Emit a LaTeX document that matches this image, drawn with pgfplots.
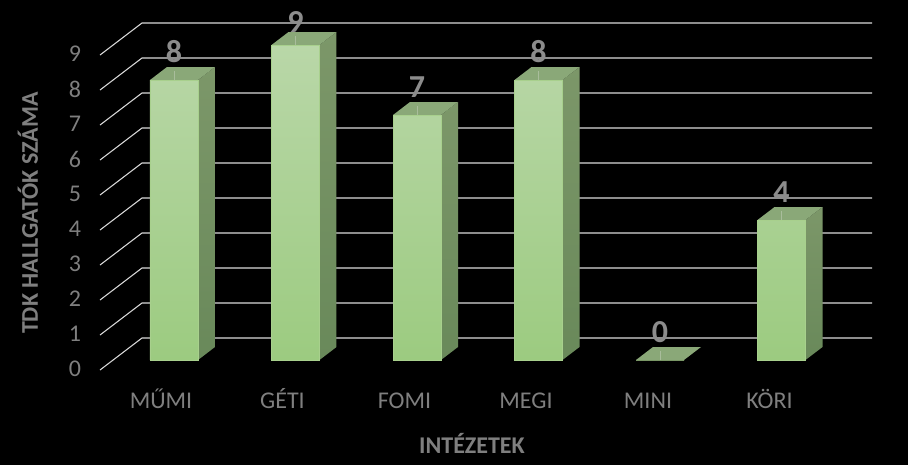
\documentclass[border=0pt]{standalone}
\usepackage{pgfplots}
\usepackage{pgfplotstable}
\usepackage{fontspec}
\setmainfont{Carlito}
\pgfplotsset{compat=1.18}

\definecolor{txt}{HTML}{7F7F7F}
\definecolor{lbl}{HTML}{8C8C8C}
\definecolor{gridc}{HTML}{D9D9D9}
\definecolor{frontT}{HTML}{B9D7A8}
\definecolor{frontB}{HTML}{9CCB80}
\definecolor{edgec}{HTML}{A8D08D}
\definecolor{sideT}{HTML}{7C9769}
\definecolor{sideB}{HTML}{69895A}
\definecolor{topf}{HTML}{8AA878}
\definecolor{leader}{HTML}{A9BD9C}

% bar centre (pixels) and value
\pgfplotstableread{
x v
174 8
295.5 9
417 7
538.5 8
660 0
781.5 4
}\bars

\begin{document}
\begin{tikzpicture}
\fill[black] (0,0) rectangle (681pt,348.75pt);
\useasboundingbox (0,0) rectangle (681pt,348.75pt);
\begin{axis}[
at={(75pt,78.75pt)}, anchor=origin,
x=0.75pt, y=26.25pt,
xmin=100, xmax=872,
ymin=0, ymax=9.7,
clip=false,
axis line style={draw=none},
major tick length=0pt,
tick style={draw=none},
xtick={161,282.5,404.5,526,648,769.5},
xticklabels={MŰMI,GÉTI,FOMI,MEGI,MINI,KÖRI},
ytick={0,1,...,9},
/pgf/number format/assume math mode=true,
tick label style={font=\fontsize{18}{20}\selectfont, text=txt},
xticklabel style={anchor=base, yshift=-36pt},
yticklabel style={anchor=center, xshift=-18.75pt, yshift=-6.75pt},
]
% back wall and left wall lines
\addplot[gridc, line width=0.8pt, unbounded coords=jump] coordinates {
(100,-0.286)(142,0.629)(872,0.629)(872,nan)
(100,0.714)(142,1.629)(872,1.629)(872,nan)
(100,1.714)(142,2.629)(872,2.629)(872,nan)
(100,2.714)(142,3.629)(872,3.629)(872,nan)
(100,3.714)(142,4.629)(872,4.629)(872,nan)
(100,4.714)(142,5.629)(872,5.629)(872,nan)
(100,5.714)(142,6.629)(872,6.629)(872,nan)
(100,6.714)(142,7.629)(872,7.629)(872,nan)
(100,7.714)(142,8.629)(872,8.629)(872,nan)
(100,8.714)(142,9.629)(872,9.629)(872,nan)
};
% side faces
\addplot[draw=none, top color=sideT, bottom color=sideB] coordinates {(198,0)(215,0.371)(215,8.371)(198,8)} --cycle;
\addplot[draw=none, top color=sideT, bottom color=sideB] coordinates {(319.5,0)(336.5,0.371)(336.5,9.371)(319.5,9)} --cycle;
\addplot[draw=none, top color=sideT, bottom color=sideB] coordinates {(441,0)(458,0.371)(458,7.371)(441,7)} --cycle;
\addplot[draw=none, top color=sideT, bottom color=sideB] coordinates {(562.5,0)(579.5,0.371)(579.5,8.371)(562.5,8)} --cycle;
\addplot[draw=none, top color=sideT, bottom color=sideB] coordinates {(805.5,0)(822.5,0.371)(822.5,4.371)(805.5,4)} --cycle;
% top faces
\addplot[draw=none, fill=topf] coordinates {(150,8)(198,8)(215,8.371)(167,8.371)} --cycle;
\addplot[draw=none, fill=topf] coordinates {(271.5,9)(319.5,9)(336.5,9.371)(288.5,9.371)} --cycle;
\addplot[draw=none, fill=topf] coordinates {(393,7)(441,7)(458,7.371)(410,7.371)} --cycle;
\addplot[draw=none, fill=topf] coordinates {(514.5,8)(562.5,8)(579.5,8.371)(531.5,8.371)} --cycle;
\addplot[draw=none, fill=topf] coordinates {(636,0)(684,0)(701,0.371)(653,0.371)} --cycle;
\addplot[draw=none, fill=topf] coordinates {(757.5,4)(805.5,4)(822.5,4.371)(774.5,4.371)} --cycle;
% leader stubs on the top faces
\addplot[leader, line width=0.6pt, unbounded coords=jump] coordinates {
(174,8)(174,8.25)(174,nan)
(295.5,9)(295.5,9.25)(295.5,nan)
(417,7)(417,7.25)(417,nan)
(538.5,8)(538.5,8.25)(538.5,nan)
(660,0)(660,0.25)(660,nan)
(781.5,4)(781.5,4.25)(781.5,nan)
};
% front faces
\addplot[ybar, bar width=36pt, bar shift=0pt, draw=edgec, line width=0.5pt, top color=frontT, bottom color=frontB] table[x=x,y=v] {\bars};
% value labels
\addplot[draw=none, nodes near coords,
  every node near coord/.append style={anchor=center, yshift=21pt, text=lbl, font=\fontsize{24}{26}\bfseries\selectfont},
  coordinate style/.condition={y==9}{yshift=-4pt}
] table[x=x,y=v] {\bars};
\node[rotate=90, text=txt, font=\fontsize{18}{20}\bfseries\selectfont] at (axis cs:28,4.2) {TDK HALLGATÓK SZÁMA};
\node[text=txt, font=\fontsize{18}{20}\bfseries\selectfont] at (axis cs:472,-2.37) {INTÉZETEK};
\end{axis}
\end{tikzpicture}
\end{document}
